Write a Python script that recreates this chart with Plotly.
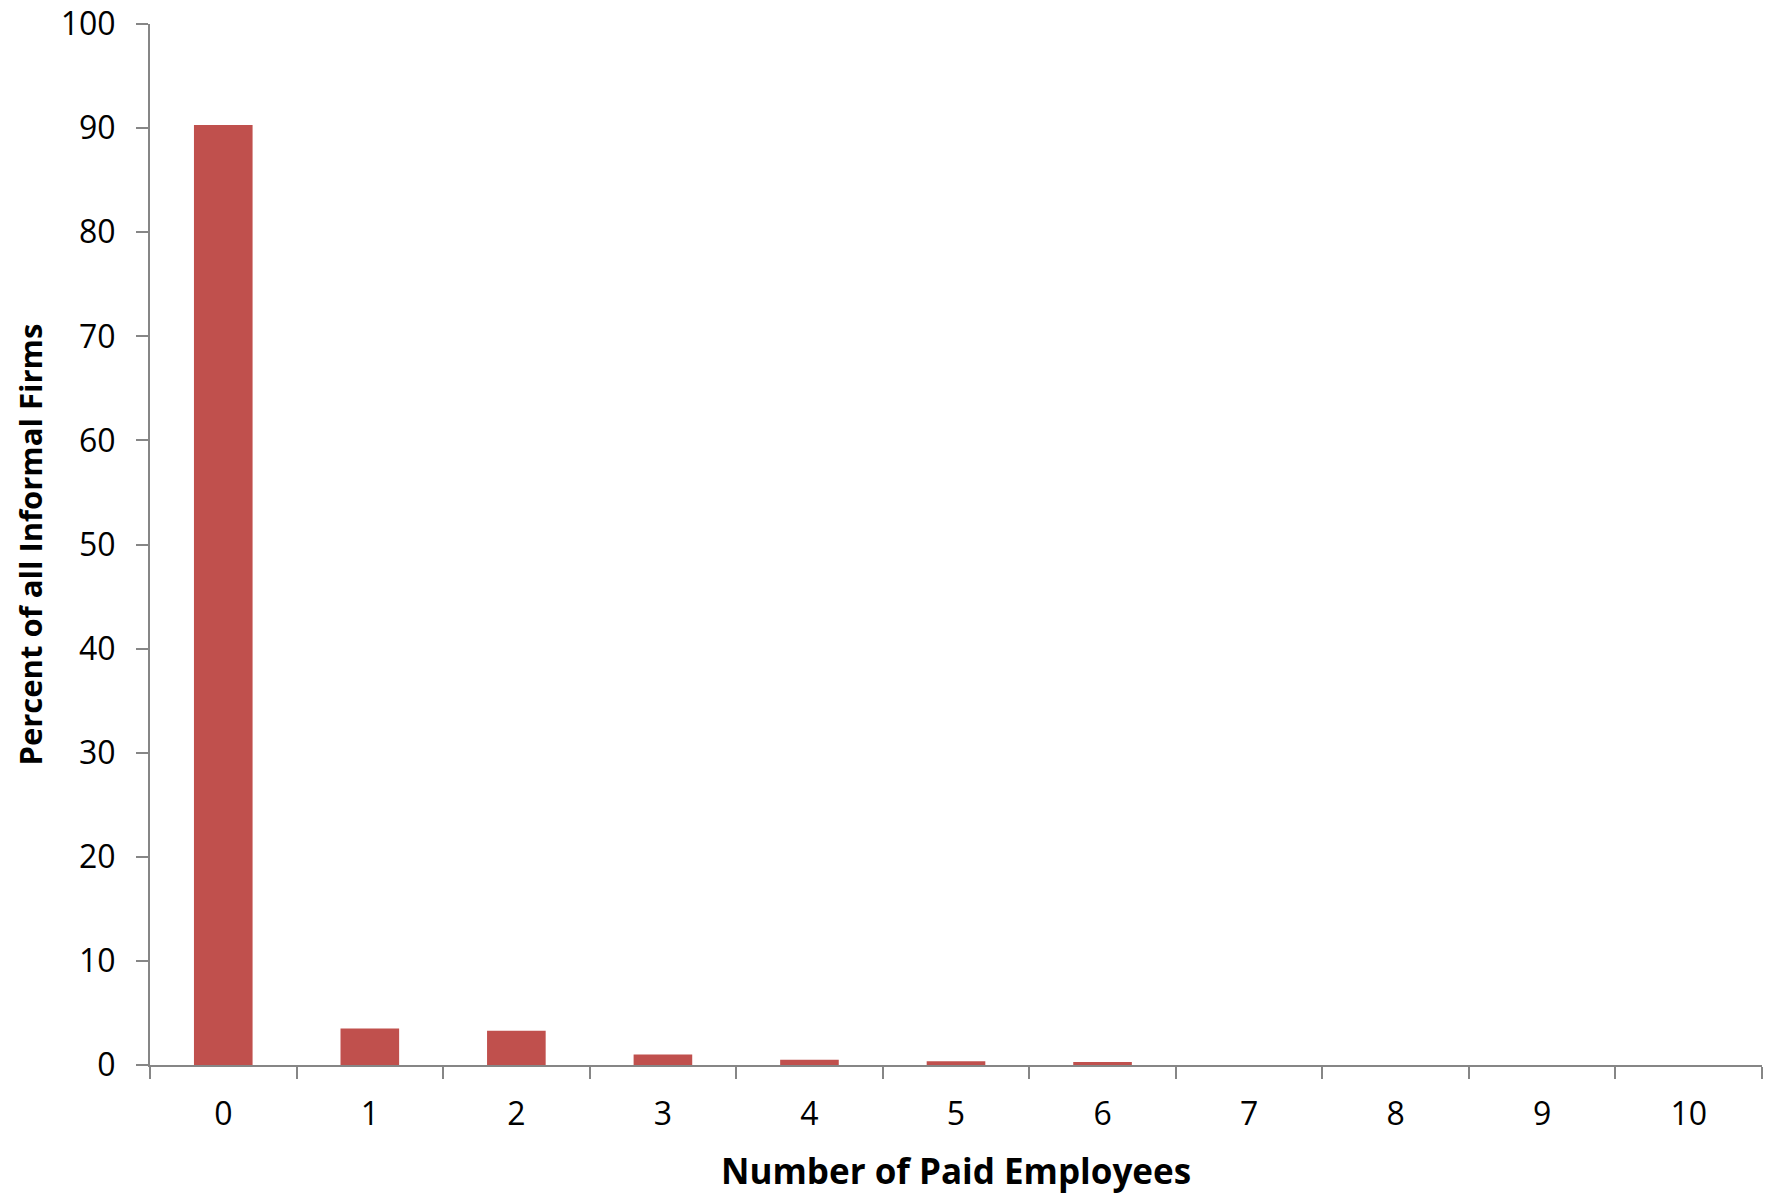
import plotly.graph_objects as go

# Distribution of informal firms by number of paid employees
employees = ["0", "1", "2", "3", "4", "5", "6", "7", "8", "9", "10"]
percent_of_firms = [90.3, 3.5, 3.3, 1.0, 0.5, 0.35, 0.28, 0, 0, 0, 0]

y_ticks = [0, 10, 20, 30, 40, 50, 60, 70, 80, 90, 100]

x_title = "Number of Paid Employees"
y_title = "Percent of all Informal Firms"

BAR_COLOR = "#C0504D"
AXIS_COLOR = "#868686"
FONT = "'Open Sans', sans-serif"

fig = go.Figure(
    go.Bar(
        x=employees,
        y=percent_of_firms,
        marker=dict(color=BAR_COLOR, line=dict(width=0)),
        width=0.4,
    )
)

fig.update_layout(
    width=1773,
    height=1195,
    margin=dict(l=150, r=11, t=24, b=130),
    paper_bgcolor="white",
    plot_bgcolor="white",
    showlegend=False,
    font=dict(family=FONT, size=32, color="black"),
)

fig.update_xaxes(
    type="category",
    tickson="boundaries",
    ticks="outside",
    ticklen=12,
    tickwidth=2,
    tickcolor=AXIS_COLOR,
    ticklabelstandoff=20,
    showline=True,
    linecolor=AXIS_COLOR,
    linewidth=2,
    showgrid=False,
    automargin=False,
    tickfont=dict(size=32),
)

fig.update_yaxes(
    range=[0, 100],
    tickvals=y_ticks,
    ticks="outside",
    ticklen=12,
    tickwidth=2,
    tickcolor=AXIS_COLOR,
    ticklabelstandoff=14,
    showline=True,
    linecolor=AXIS_COLOR,
    linewidth=2,
    showgrid=False,
    zeroline=False,
    automargin=False,
    tickfont=dict(size=32),
)

# Axis titles
fig.add_annotation(
    text=f"<b>{x_title}</b>",
    xref="paper", yref="paper",
    x=0.5, y=0, yshift=-105,
    xanchor="center", yanchor="middle",
    showarrow=False,
    font=dict(size=35),
)
fig.add_annotation(
    text=f"<b>{y_title}</b>",
    xref="paper", yref="paper",
    x=0, xshift=-121, y=0.5,
    xanchor="center", yanchor="middle",
    textangle=-90,
    showarrow=False,
    font=dict(size=31),
)

fig.write_html("out.html")
